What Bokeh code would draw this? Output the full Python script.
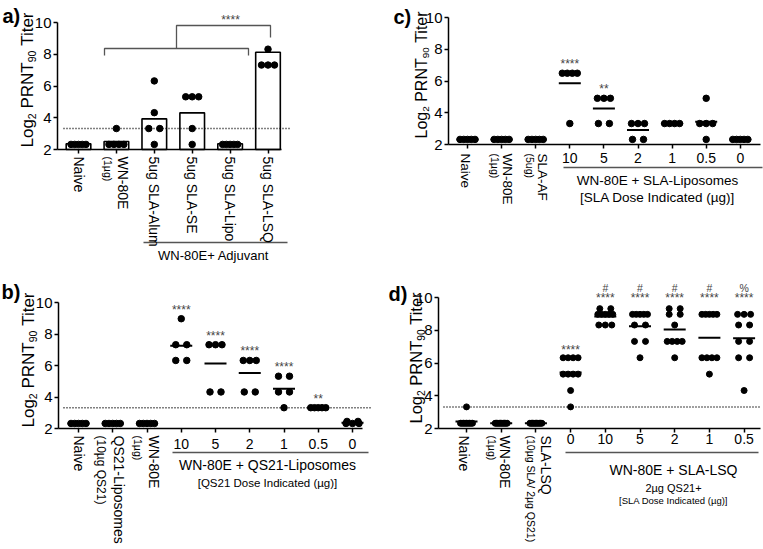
import math
import numpy as np
from bokeh.plotting import figure
from bokeh.models import Range1d, FixedTicker, Label, CustomJSTickFormatter
from bokeh.layouts import column, row
from bokeh.embed import file_html
from bokeh.resources import INLINE

FONT = "Liberation Sans"
LOD = 3.32                      # detection limit (dotted line)
Y_TICKS = [2, 4, 6, 8, 10]
# y-axis title pieces: (text, is_subscript, Arial advance width in em incl. a following space)
Y_LABEL_PARTS = [("Log", False, 1.668), ("2", True, 0.556 + 0.278 / 0.62),
                 ("PRNT", False, 2.722), ("90", True, 1.112 + 0.278 / 0.62),
                 ("Titer", False, 2.0)]

# ---------------- panel a ----------------
a_cats = ["Naive", "WN-80E", "5ug SLA-Alum", "5ug SLA-SE", "5ug SLA-Lipo", "5ug SLA-LSQ"]
a_subs = ["", "(1\u00b5g)", "", "", "", ""]
a_bars = [2.36, 2.50, 3.93, 4.31, 2.36, 8.13]
a_vals = [
    [2.32, 2.32, 2.32, 2.32, 2.32],
    [3.32, 2.32, 2.32, 2.32, 2.32],
    [6.32, 4.32, 3.32, 3.32, 2.32],
    [5.32, 5.32, 5.32, 3.32, 2.32],
    [2.32, 2.32, 2.32, 2.32, 2.32],
    [8.32, 7.32, 7.32, 7.32],
]
a_group = "WN-80E+ Adjuvant"
a_sig = "****"

# ---------------- panel b ----------------
b_cats = ["Naive", "QS21-Liposomes", "WN-80E", "10", "5", "2", "1", "0.5", "0"]
b_subs = ["", "(10\u00b5g QS21)", "(1\u00b5g)", "", "", "", "", "", ""]
b_vals = [
    [2.32] * 5, [2.32] * 5, [2.32] * 5,
    [8.97, 7.32, 7.32, 6.32, 6.32],
    [7.32, 7.32, 7.32, 4.32, 4.32],
    [6.32, 6.32, 6.32, 4.32, 4.32],
    [5.32, 5.32, 4.32, 4.32, 3.32],
    [3.32] * 5,
    [2.32, 2.32, 2.32, 2.45, 2.45],
]
b_sig = ["", "", "", "****", "****", "****", "****", "**", ""]
b_group = "WN-80E + QS21-Liposomes"
b_group2 = "[QS21 Dose Indicated (\u00b5g)]"

# ---------------- panel c ----------------
c_cats = ["Naive", "WN-80E", "SLA-AF", "10", "5", "2", "1", "0.5", "0"]
c_subs = ["", "(1\u00b5g)", "(5ug)", "", "", "", "", "", ""]
c_vals = [
    [2.32] * 5, [2.32] * 5, [2.32] * 5,
    [6.49, 6.49, 6.49, 6.49, 3.32],
    [4.91, 4.91, 4.91, 3.32, 3.32],
    [3.32, 3.32, 3.32, 2.32, 2.32],
    [3.32, 3.32, 3.32, 3.32],
    [4.91, 3.32, 3.32, 3.32, 2.32],
    [2.32] * 5,
]
c_sig = ["", "", "", "****", "**", "", "", "", ""]
c_group = "WN-80E + SLA-Liposomes"
c_group2 = "[SLA Dose Indicated (\u00b5g)]"

# ---------------- panel d ----------------
d_cats = ["Naive", "WN-80E", "SLA-LSQ", "0", "10", "5", "2", "1", "0.5"]
d_subs = ["", "(1\u00b5g)", "(10\u00b5g SLA/ 2\u00b5g QS21)", "", "", "", "", "", ""]
d_vals = [
    [3.32] + [2.32] * 9,
    [2.32] * 10,
    [2.32] * 10,
    [6.32] * 4 + [5.32] * 4 + [4.32, 3.32],
    [9.32] * 2 + [8.97] * 5 + [8.32] * 3,
    [8.97] * 5 + [8.32] * 2 + [7.32] * 2 + [6.32],
    [9.32] * 2 + [8.97] * 2 + [8.32] + [7.32] * 4 + [6.32],
    [8.97] * 5 + [6.32] * 4 + [5.32],
    [8.97] * 3 + [8.32] * 2 + [7.32] * 2 + [6.32] * 2 + [4.32],
]
d_sig = ["", "", "", "****", "****", "****", "****", "****", "****"]
d_sig2 = ["", "", "", "", "#", "#", "#", "#", "%"]
d_group = "WN-80E + SLA-LSQ"
d_group2 = "2\u00b5g QS21+"
d_group3 = "[SLA Dose Indicated (\u00b5g)]"

SPAN = {1: 0, 2: 11, 3: 13, 4: 15, 5: 15}


class Panel:
    """One sub-chart; the frame fills the whole figure, axes are pinned inside."""

    def __init__(self, w, h, yaxis_x, y10, y2, cat0, dx, axis_end, ncat):
        self.cat0, self.dx, self.y10 = cat0, dx, y10
        self.ppu = (y2 - y10) / 8.0
        x0 = (0 - cat0) / dx
        x1 = (w - cat0) / dx
        y1 = 10 + y10 / self.ppu
        y0 = 2 - (h - y2) / self.ppu
        p = figure(width=w, height=h, x_range=Range1d(x0, x1), y_range=Range1d(y0, y1),
                   output_backend="svg", toolbar_location=None,
                   min_border_left=0, min_border_right=0, min_border_top=0,
                   min_border_bottom=0)
        p.grid.visible = False
        p.outline_line_color = None
        p.background_fill_color = "white"
        p.border_fill_color = "white"
        xleft = self.X(yaxis_x)
        ya = p.yaxis[0]
        ya.fixed_location = xleft
        ya.ticker = FixedTicker(ticks=Y_TICKS)
        ya.bounds = (2, 10)
        ya.minor_tick_line_color = None
        ya.major_tick_out = 4
        ya.major_tick_in = 0
        ya.major_label_standoff = 2
        ya.major_label_text_font = FONT
        ya.major_label_text_font_size = "15px"
        ya.major_label_text_color = "black"
        ya.axis_line_width = 1.5
        ya.major_tick_line_width = 1.5
        xa = p.xaxis[0]
        xa.fixed_location = 2
        xa.bounds = (xleft, self.X(axis_end))
        xa.ticker = FixedTicker(ticks=list(range(ncat)))
        xa.formatter = CustomJSTickFormatter(code="return ''")
        xa.major_label_text_font_size = "1px"
        xa.minor_tick_line_color = None
        xa.major_tick_out = 4
        xa.major_tick_in = 0
        xa.axis_line_width = 1.5
        xa.major_tick_line_width = 1.5
        self.p = p

    def X(self, lx):
        return (lx - self.cat0) / self.dx

    def Y(self, ly):
        return 10 - (ly - self.y10) / self.ppu

    def text(self, x, y, s, size, angle=0, align="center", baseline="middle",
             bold=False, color="black"):
        self.p.add_layout(Label(x=x, y=y, text=s, angle=angle, text_align=align,
                                text_baseline=baseline, text_font=FONT,
                                text_font_size=f"{size}px", text_color=color,
                                text_font_style="bold" if bold else "normal"))

    def dots(self, vals, size, means=True):
        xs, ys = [], []
        for i, grp in enumerate(vals):
            counts = {}
            for v in grp:
                counts[v] = counts.get(v, 0) + 1
            for v, n in counts.items():
                span = SPAN.get(n, 12)
                for k in range(n):
                    off = 0 if n == 1 else (k / (n - 1) - 0.5) * span
                    xs.append(i + off / self.dx)
                    ys.append(v)
        if means:
            m = [float(np.mean(g)) for g in vals]
            idx = np.arange(len(vals))
            half = 11 / self.dx
            self.p.segment(x0=idx - half, y0=m, x1=idx + half, y1=m,
                           line_color="black", line_width=2)
        self.p.scatter(x=xs, y=ys, size=size, color="black")

    def lod(self, lx0, lx1):
        self.p.line(x=[self.X(lx0), self.X(lx1)], y=[LOD, LOD], line_color="black",
                    line_width=1.5, line_dash="1 2")

    def ylabel(self, cx, start_y, size):
        """Rotated y title, built from pieces so the subscripts sit lower."""
        sub = size * 0.62
        y = start_y
        for s, is_sub, em in Y_LABEL_PARTS:
            fs = sub if is_sub else size
            bx = cx + (size * 0.3 if is_sub else 0)
            self.text(self.X(bx), self.Y(y), s, round(fs, 1), angle=math.pi / 2,
                      align="left", baseline="middle")
            y -= em * fs

    def rot_labels(self, cats, subs, main_off, sub_off, main_size, sub_size, start):
        ys = 2 - start / self.ppu
        for i, c in enumerate(cats):
            if i >= len(main_off):
                break
            self.text(i + main_off[i] / self.dx, ys, c, main_size, angle=-math.pi / 2,
                      align="left")
            if subs[i]:
                self.text(i + sub_off[i] / self.dx, ys, subs[i], sub_size[i],
                          angle=-math.pi / 2, align="left")

    def num_labels(self, cats, first, ly, size):
        for i in range(first, len(cats)):
            self.text(i, self.Y(ly), cats[i], size)

    def hline(self, lx0, lx1, ly, color="#555555", width=1.3):
        self.p.line(x=[self.X(lx0), self.X(lx1)], y=[self.Y(ly)] * 2,
                    line_color=color, line_width=width)


# ================= panel a =================
A = Panel(380, 280, 57, 22, 149, 78, 37.9, 281, len(a_cats))
A.p.vbar(x=list(range(len(a_bars))), top=a_bars, bottom=2, width=0.65,
         fill_color="white", line_color="black", line_width=1.6)
A.lod(63, 290)
A.dots(a_vals, 6.5, means=False)
# comparison bracket
A.p.line(x=[A.X(104), A.X(104), A.X(248), A.X(248)],
         y=[A.Y(55), A.Y(48), A.Y(48), A.Y(55)], line_color="#555555", line_width=1.3)
A.p.line(x=[A.X(176), A.X(176), A.X(270), A.X(270)],
         y=[A.Y(48), A.Y(25), A.Y(25), A.Y(37)], line_color="#555555", line_width=1.3)
A.text(A.X(230), A.Y(19), a_sig, 12, color="#444444")
A.text(A.X(2), A.Y(15), "a)", 20, align="left", bold=True)
A.ylabel(26.5, 147, 17)
A.rot_labels(a_cats, a_subs, [0, 7, 0, 0, 0, 0], [0, -8, 0, 0, 0, 0], 14,
             [0, 10.5, 0, 0, 0, 0], 7)
A.hline(143, 287, 242)
A.text(A.X(213), A.Y(255), a_group, 13)

# ================= panel b =================
B = Panel(380, 269, 58, 22, 148, 78, 34.25, 362, len(b_cats))
B.lod(63, 372)
B.dots(b_vals, 6.5)
for i, s in enumerate(b_sig):
    if s:
        B.text(i, max(b_vals[i]) + 9 / B.ppu, s, 12, color="#444444")
B.text(B.X(1), B.Y(11), "b)", 20, align="left", bold=True)
B.ylabel(27.5, 147, 17)
B.rot_labels(b_cats, b_subs, [0, 6, 6.5], [0, -12, -9.5], 14, [0, 12, 10.5], 7)
B.num_labels(b_cats, 3, 163, 14)
B.hline(172, 368, 172)
B.text(B.X(267), B.Y(184), b_group, 14)
B.text(B.X(267), B.Y(202), b_group2, 11.5)

# ================= panel c =================
C = Panel(383, 280, 68, 17, 144, 87, 34.1, 380, len(c_cats))
C.dots(c_vals, 6.5)
for i, s in enumerate(c_sig):
    if s:
        C.text(i, max(c_vals[i]) + 9.5 / C.ppu, s, 12, color="#444444")
C.text(C.X(13), C.Y(16), "c)", 20, align="left", bold=True)
C.ylabel(40.5, 138, 16)
C.rot_labels(c_cats, c_subs, [-2, 6, 7], [0, -7, -6], 13.5, [0, 10.5, 10.5], 9)
C.num_labels(c_cats, 3, 157, 14)
C.hline(183, 382, 167)
C.text(C.X(277), C.Y(180), c_group, 13.5)
C.text(C.X(277), C.Y(197), c_group2, 13.5)

# ================= panel d =================
D = Panel(383, 269, 58, 17, 148, 86, 34.7, 380, len(d_cats))
D.lod(63, 380)
D.dots(d_vals, 6)
for i, s in enumerate(d_sig):
    if s:
        top = max(d_vals[i])
        ys = 10.0 if top > 8.5 else top + 7.5 / D.ppu
        D.text(i, ys, s, 12, color="#444444")
    if d_sig2[i]:
        D.text(i, 10.6, d_sig2[i], 10.5, color="#444444")
D.text(D.X(8), D.Y(13.5), "d)", 20, align="left", bold=True)
D.ylabel(35.5, 143, 16.5)
D.rot_labels(d_cats, d_subs, [-3, 4, 10], [0, -9, -5], 14, [0, 10.5, 10.5], 7)
D.num_labels(d_cats, 3, 158, 14)
D.hline(185, 378, 172)
D.text(D.X(293), D.Y(189), d_group, 14)
D.text(D.X(293), D.Y(207), d_group2, 11)
D.text(D.X(293), D.Y(220), d_group3, 9.5)

layout = column(row(A.p, C.p), row(B.p, D.p))
open("out.html", "w").write(file_html(layout, INLINE))
